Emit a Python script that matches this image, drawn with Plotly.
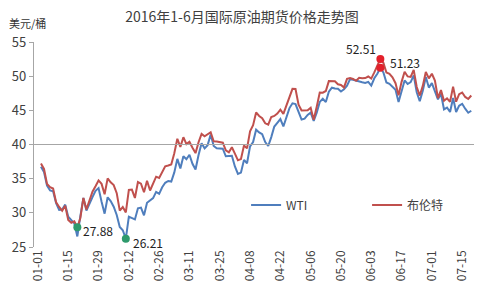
import pandas as pd
import plotly.graph_objects as go

# categories: every weekday 2016-01-01 .. 2016-07-20
dates = pd.bdate_range("2016-01-01", "2016-07-20")
categories = [d.strftime("%m-%d") for d in dates]

tick_labels = ["01-01", "01-15", "01-29", "02-12", "02-26", "03-11", "03-25",
               "04-08", "04-22", "05-06", "05-20", "06-03", "06-17", "07-01", "07-15"]

wti_jan = [None, 36.76, 35.97, 33.97, 33.27, 33.16, 31.41, 30.44, 30.48, 31.20, 29.42,
           None, 28.46, 26.55, 29.53, 32.19, 30.34, 31.45, 32.30, 33.22, 33.62]
wti_feb = [31.62, 29.88, 32.28, 31.72, 30.89, 29.69, 27.94, 27.45, 26.21, 29.44, None,
           29.04, 30.66, 30.77, 29.64, 31.48, 31.87, 32.15, 33.07, 32.78, 33.75]
wti_mar = [34.40, 34.66, 34.57, 35.92, 37.90, 36.50, 38.29, 37.84, 38.50, 37.18, 36.34,
           38.46, 40.20, 39.44, 39.91, 41.45, 39.79, 39.46, None, 39.39, 38.28, 38.32, 38.34]
wti_apr = [36.79, 35.70, 35.89, 37.75, 37.26, 39.72, 40.36, 42.17, 41.76, 41.50, 40.36,
           39.78, 41.08, 42.63, 43.18, 43.73, 42.64, 44.04, 45.33, 46.03, 45.92]
wti_may = [44.78, 43.65, 43.78, 44.32, 44.66, 43.44, 44.66, 46.23, 46.70, 46.21, 47.72,
           48.31, 48.19, 48.16, 47.75, 48.08, 48.62, 49.56, 49.48, 49.33, None, 49.10]
wti_jun = [49.01, 49.17, 48.62, 49.69, 50.36, 51.23, 50.56, 49.07, 48.88, 48.49, 48.01,
           46.21, 47.98, 49.37, 48.85, 49.13, 50.11, 47.64, 46.33, 47.85, 49.88, 48.33]
wti_jul = [48.99, None, 46.60, 47.43, 45.14, 45.41, 44.76, 46.80, 44.75, 45.68, 45.95,
           45.24, 44.65, 44.94]

brent_jan = [None, 37.22, 36.42, 34.23, 33.75, 33.55, 31.55, 30.86, 30.31, 31.03, 28.94,
             28.55, 28.76, 27.88, 29.25, 32.18, 30.50, 31.80, 33.10, 33.89, 34.74]
brent_feb = [34.24, 32.72, 35.04, 34.46, 34.06, 32.88, 30.32, 30.84, 30.06, 33.36, 33.39,
             32.18, 34.50, 34.28, 33.01, 34.69, 33.27, 34.41, 35.29, 35.10, 35.97]
brent_mar = [36.81, 36.93, 37.07, 38.72, 40.84, 39.65, 41.07, 40.05, 40.39, 39.53, 38.74,
             40.33, 41.54, 41.20, 41.54, 41.79, 40.47, 40.44, None, 40.27, 39.14, 38.86, 39.60]
brent_apr = [38.67, 37.69, 37.87, 39.84, 39.43, 41.94, 42.83, 44.69, 44.18, 43.84, 43.10,
             42.91, 44.03, 44.18, 44.53, 45.11, 44.48, 45.74, 47.18, 48.14, 48.13]
brent_may = [45.83, 44.97, 45.01, 45.01, 45.37, 43.63, 45.52, 47.61, 47.59, 47.83, 49.28,
             49.28, 49.26, 48.81, 48.72, 48.35, 49.61, 49.74, 49.59, 49.32, 49.76, 49.69]
brent_jun = [49.72, 49.95, 49.64, 50.55, 51.44, 52.51, 51.95, 50.54, 50.35, 49.83, 48.97,
             47.19, 49.17, 50.65, 49.96, 49.88, 50.91, 48.41, 47.16, 48.58, 50.61, 49.68]
brent_jul = [50.35, 49.36, 46.80, 47.96, 46.40, 46.76, 46.25, 48.47, 46.26, 47.37, 47.61,
             46.96, 46.66, 47.17]

wti = wti_jan + wti_feb + wti_mar + wti_apr + wti_may + wti_jun + wti_jul
brent = brent_jan + brent_feb + brent_mar + brent_apr + brent_may + brent_jun + brent_jul

FONT = "Noto Sans CJK SC, sans-serif"
BLUE = "#4F7EBD"
RED = "#C0504D"
GREEN = "#2E9A6C"
MRED = "#E3202B"

def extreme(vals, fn):
    pairs = [(v, i) for i, v in enumerate(vals) if v is not None]
    v, i = fn(pairs)
    return categories[i], v

fig = go.Figure()
fig.add_trace(go.Scatter(x=categories, y=wti, mode="lines", name="WTI",
                         line=dict(color=BLUE, width=2), connectgaps=True))
fig.add_trace(go.Scatter(x=categories, y=brent, mode="lines", name="布伦特",
                         line=dict(color=RED, width=2), connectgaps=True))

marks = [
    (extreme(brent, min), GREEN, "left", 4, -3),
    (extreme(wti, min), GREEN, "left", 5, -4),
    (extreme(brent, max), MRED, "right", -2, 11),
    (extreme(wti, max), MRED, "left", 8, 5),
]
for (cx, cy), col, anc, xs, ys in marks:
    fig.add_trace(go.Scatter(x=[cx], y=[cy], mode="markers", showlegend=False,
                             marker=dict(color=col, size=8)))
    fig.add_annotation(x=cx, y=cy, text=f"{cy:.2f}", showarrow=False,
                       xanchor=anc, yanchor="middle", xshift=xs, yshift=ys,
                       font=dict(family=FONT, size=12, color="#222222"))

fig.add_shape(type="line", xref="paper", x0=0, x1=1, yref="y", y0=40, y1=40,
              line=dict(color="#A6A6A6", width=1.2))

fig.add_annotation(xref="paper", yref="paper", x=-0.062, y=1.093, text="美元/桶",
                   showarrow=False, xanchor="left", yanchor="middle",
                   font=dict(family=FONT, size=11, color="#333333"))

fig.update_layout(
    width=500, height=300,
    margin=dict(l=34, r=18, t=42, b=53),
    paper_bgcolor="white", plot_bgcolor="white",
    title=dict(text="2016年1-6月国际原油期货价格走势图", x=0.484, xanchor="center",
               y=0.943, yanchor="middle",
               font=dict(family=FONT, size=14, color="#404040")),
    showlegend=True,
    legend=dict(orientation="h", x=0.482, y=0.205, xanchor="left", yanchor="middle",
                bgcolor="rgba(0,0,0,0)", font=dict(family=FONT, size=12, color="#404040"),
                entrywidth=76, entrywidthmode="pixels", itemwidth=30),
    xaxis=dict(type="category", categoryorder="array", categoryarray=categories,
               range=[-1.3, 143.9], tickvals=tick_labels, ticktext=tick_labels,
               tickangle=-90, showgrid=False, showline=False, zeroline=False, ticks="",
               tickfont=dict(family=FONT, size=12, color="#404040")),
    yaxis=dict(range=[25, 55], tickvals=[25, 30, 35, 40, 45, 50, 55], showgrid=False,
               showline=True, linecolor="#A6A6A6", linewidth=1.2, zeroline=False,
               ticks="outside", ticklen=4, tickcolor="#A6A6A6",
               tickfont=dict(family=FONT, size=13, color="#404040")),
)

fig.write_html("out.html")
